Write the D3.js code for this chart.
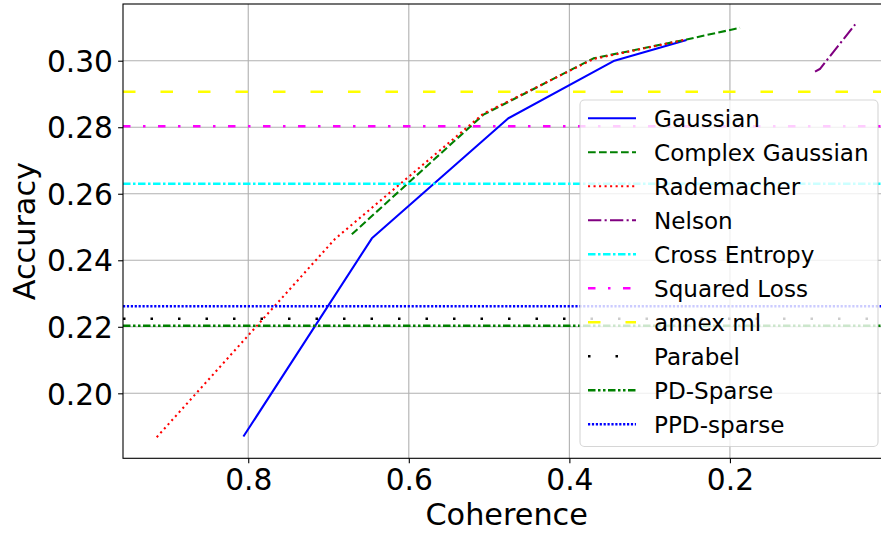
<!DOCTYPE html>
<html>
<head>
<meta charset="utf-8">
<script src="https://cdn.jsdelivr.net/npm/d3@7"></script>
<style>
  html, body { margin: 0; padding: 0; background: #fff; }
  svg { display: block; font-family: "DejaVu Sans", sans-serif; }
</style>
</head>
<body>
<div id="chart"></div>
<script>
// ---- data ----
const gaussianX = [0.806, 0.646, 0.476, 0.345, 0.254]
const gaussianY = [0.1870, 0.2466, 0.2827, 0.2999, 0.3062]

const complexGaussianX = [0.671, 0.507, 0.370, 0.254, 0.1875]
const complexGaussianY = [0.2478, 0.2838, 0.3007, 0.3064, 0.3099]

const rademacherX = [0.914, 0.692, 0.507, 0.370, 0.254]
const rademacherY = [0.1868, 0.2464, 0.2841, 0.3005, 0.3064]

const nelsonX = [0.094, 0.088, 0.044]
const nelsonY = [0.2967, 0.2975, 0.3109]

// baselines drawn as horizontal lines
const crossEntropy = 0.2630
const squaredLoss = 0.2803
const annexMl = 0.2907
const parabel = 0.2224
const pdSparse = 0.2203
const ppdSparse = 0.2262

const xTicks = [0.8, 0.6, 0.4, 0.2]
const yTicks = [0.20, 0.22, 0.24, 0.26, 0.28, 0.30]

// ---- layout ----
const W = 881, H = 535
const plotL = 123, plotR = 890.5, plotT = 4, plotB = 458.3
const lw = 2.08      // 1.5pt lines
const hw = 2.5       // horizontal reference lines

const x = d3.scaleLinear().domain([0.956, 0.0]).range([plotL, plotR])
const y = d3.scaleLinear().domain([0.31705, 0.18046]).range([plotT, plotB])

// style of each legend entry, in drawing order
const series = [
  {name: 'Gaussian', xs: gaussianX, ys: gaussianY, color: '#0000ff', width: lw, dash: null},
  {name: 'Complex Gaussian', xs: complexGaussianX, ys: complexGaussianY, color: '#008000', width: lw, dash: [7.7, 3.3]},
  {name: 'Rademacher', xs: rademacherX, ys: rademacherY, color: '#ff0000', width: lw, dash: [2.08, 3.44]},
  {name: 'Nelson', xs: nelsonX, ys: nelsonY, color: '#800080', width: lw, dash: [13.3, 3.3, 2.1, 3.3]},
  {name: 'Cross Entropy', level: crossEntropy, color: '#00ffff', width: hw, dash: [7.5, 2.5, 2.5, 2.5]},
  {name: 'Squared Loss', level: squaredLoss, color: '#ff00ff', width: hw, dash: [7.5, 12.5, 2.5, 12.5]},
  {name: 'annex ml', level: annexMl, color: '#ffff00', width: hw, dash: [12.5, 25]},
  {name: 'Parabel', level: parabel, color: '#000000', width: hw, dash: [2.5, 25]},
  {name: 'PD-Sparse', level: pdSparse, color: '#008000', width: hw, dash: [7.5, 2.5, 2.5, 2.5, 2.5, 2.5]},
  {name: 'PPD-sparse', level: ppdSparse, color: '#0000ff', width: hw, dash: [2.2, 1.7]}
]

const svg = d3.select('#chart').append('svg')
  .attr('width', W)
  .attr('height', H)

svg.append('defs').append('clipPath')
  .attr('id', 'clip')
  .append('rect')
  .attr('x', plotL).attr('y', plotT)
  .attr('width', plotR - plotL).attr('height', plotB - plotT)

// grid
const grid = svg.append('g').attr('stroke', '#b0b0b0').attr('stroke-width', 1.1)
grid.selectAll('.gx').data(xTicks).enter().append('line')
  .attr('x1', d => x(d)).attr('x2', d => x(d))
  .attr('y1', plotT).attr('y2', plotB)
grid.selectAll('.gy').data(yTicks).enter().append('line')
  .attr('x1', plotL).attr('x2', plotR)
  .attr('y1', d => y(d)).attr('y2', d => y(d))

// lines
const pad = svg.append('g').attr('clip-path', 'url(#clip)')
const line = d3.line().x(d => x(d[0])).y(d => y(d[1]))

for (let s of series) {
  let path = pad.append('path')
    .attr('fill', 'none')
    .attr('stroke', s.color)
    .attr('stroke-width', s.width)
  if (s.level !== undefined) {
    path.attr('d', `M${plotL},${y(s.level)}H${plotR}`)
  } else {
    path.attr('d', line(s.xs.map((v, i) => [v, s.ys[i]])))
      .attr('stroke-linejoin', 'round')
  }
  if (s.dash) path.attr('stroke-dasharray', s.dash.join(','))
}

// axes
const xAxis = d3.axisBottom(x).tickValues(xTicks).tickSize(4.9).tickPadding(5)
  .tickFormat(d3.format('.1f'))
const yAxis = d3.axisLeft(y).tickValues(yTicks).tickSize(4.9).tickPadding(5)
  .tickFormat(d3.format('.2f'))

const gx = svg.append('g')
  .attr('transform', `translate(0,${plotB})`)
  .call(xAxis)
const gy = svg.append('g')
  .attr('transform', `translate(${plotL},0)`)
  .call(yAxis)

for (let g of [gx, gy]) {
  g.select('.domain').remove()
  g.selectAll('.tick line').attr('stroke', '#000').attr('stroke-width', 1.1)
  g.selectAll('.tick text')
    .attr('fill', '#000')
    .style('font-family', '"DejaVu Sans", sans-serif')
    .style('font-size', '29.7px')
}
gx.selectAll('.tick text').attr('y', 32.2).attr('dy', null)
gy.selectAll('.tick text').attr('x', -10).attr('dy', '0.36em')

// frame
svg.append('rect')
  .attr('x', plotL).attr('y', plotT)
  .attr('width', plotR - plotL).attr('height', plotB - plotT)
  .attr('fill', 'none')
  .attr('stroke', '#000')
  .attr('stroke-width', 1.1)

// axis titles
svg.append('text')
  .attr('x', 506.7).attr('y', 525)
  .attr('text-anchor', 'middle')
  .style('font-size', '30.3px')
  .text('Coherence')

svg.append('text')
  .attr('transform', `translate(35,${(plotT + plotB) / 2}) rotate(-90)`)
  .attr('text-anchor', 'middle')
  .style('font-size', '30.3px')
  .text('Accuracy')

// legend
const legend = svg.append('g')
legend.append('rect')
  .attr('x', 580).attr('y', 100)
  .attr('width', 298).attr('height', 346.5)
  .attr('rx', 4.5)
  .attr('fill', '#fff').attr('fill-opacity', 0.8)
  .attr('stroke', '#cccccc').attr('stroke-opacity', 0.8)
  .attr('stroke-width', 1.1)

const rows = legend.selectAll('.row').data(series).enter().append('g')
  .attr('transform', (d, i) => `translate(0,${118.3 + i * 34})`)

rows.append('path')
  .attr('d', 'M588,0H636')
  .attr('fill', 'none')
  .attr('stroke', d => d.color)
  .attr('stroke-width', d => d.width)
  .attr('stroke-dasharray', d => d.dash ? d.dash.join(',') : null)

rows.append('text')
  .attr('x', 654).attr('y', 8.3)
  .style('font-size', '23.1px')
  .text(d => d.name)
</script>
</body>
</html>
